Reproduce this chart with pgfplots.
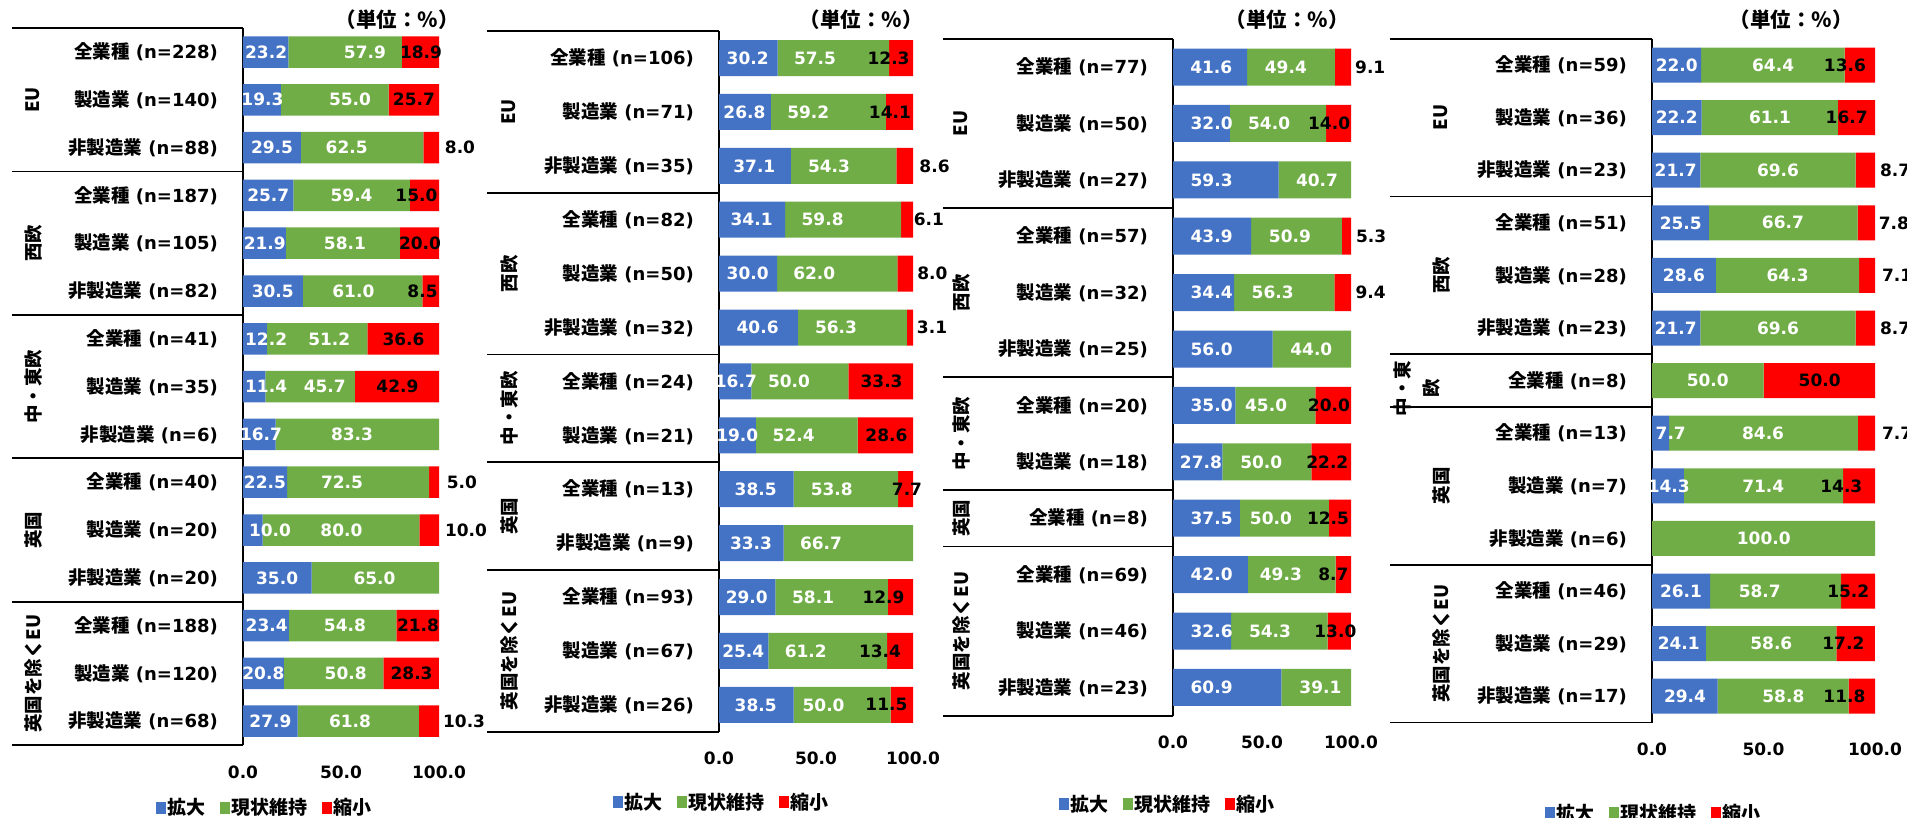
\documentclass[border=0pt]{standalone}
\usepackage{fontspec}
\setmainfont{DejaVu Sans}
\newfontfamily\jp{Noto Sans CJK JP}
\usepackage{pgfplots}
\usepackage{pgfplotstable}
\pgfplotsset{compat=1.18}
\definecolor{cb}{HTML}{4472C4}
\definecolor{cg}{HTML}{70AD47}
\definecolor{cr}{HTML}{FF0000}

\newcommand\numfont{\fontsize{17}{20}\selectfont\bfseries}
\newcommand\catfont{\fontsize{18}{21}\selectfont\bfseries}
\newcommand\grpfont{\fontsize{18.5}{21}\selectfont\bfseries\jp}
\newcommand\unitlbl{{\jp\bfseries\fontsize{20.5}{23}\selectfont （単位：％）}}
\newcommand\legtxt[1]{{\jp\bfseries\fontsize{19}{22}\selectfont #1}}
\newcommand\cjtxt[1]{{\jp\fontsize{18.5}{21}\selectfont #1}}
\newcommand\zen[1]{\cjtxt{全業種} (n=#1)}
\newcommand\sei[1]{\cjtxt{製造業} (n=#1)}
\newcommand\hi[1]{\cjtxt{非製造業} (n=#1)}

% row, 拡大, 現状維持, 縮小, label positions (blue, green, red)
\pgfplotstableread{
row a b c bx gx rx
0 23.2 57.9 18.9 11.8 62.2 90.8
1 19.3 55.0 25.7 9.9 54.6 87.2
2 29.5 62.5 8.0 14.8 52.9 110.7
3 25.7 59.4 15.0 12.9 55.4 88.5
4 21.9 58.1 20.0 11.1 52.0 90.3
5 30.5 61.0 8.5 15.2 56.3 91.6
6 12.2 51.2 36.6 11.8 44.0 81.9
7 11.4 45.7 42.9 11.8 41.7 78.8
8 16.7 83.3 0 9.2 55.6 nan
9 22.5 72.5 5.0 11.2 50.5 111.7
10 10.0 80.0 10.0 13.8 50.2 113.8
11 35.0 65.0 0 17.4 67.1 nan
12 23.4 54.8 21.8 12.1 52.0 89.3
13 20.8 50.8 28.3 10.4 52.4 86.0
14 27.9 61.8 10.3 14.0 54.6 112.8
}\tA
\pgfplotstableread{
row a b c bx gx rx
0 30.2 57.5 12.3 14.8 49.5 87.4
1 26.8 59.2 14.1 13.1 46.0 88.1
2 37.1 54.3 8.6 18.2 56.7 111.1
3 34.1 59.8 6.1 16.8 53.4 108.2
4 30.0 62.0 8.0 14.8 49.1 110.0
5 40.6 56.3 3.1 19.9 60.3 109.8
6 16.7 50.0 33.3 8.7 36.1 83.8
7 19.0 52.4 28.6 9.4 38.5 86.3
8 38.5 53.8 7.7 18.9 58.1 96.9
9 33.3 66.7 0 16.5 52.6 nan
10 29.0 58.1 12.9 14.3 48.5 84.8
11 25.4 61.2 13.4 12.5 44.7 83.0
12 38.5 50.0 11.5 18.9 53.9 86.3
}\tB
\pgfplotstableread{
row a b c bx gx rx
0 41.6 49.4 9.1 21.5 63.4 110.8
1 32.0 54.0 14.0 21.7 54.0 87.7
2 59.3 40.7 0 21.7 80.9 nan
3 43.9 50.9 5.3 21.7 65.7 111.3
4 34.4 56.3 9.4 21.7 56.0 111.0
5 56.0 44.0 0 21.7 77.7 nan
6 35.0 45.0 20.0 21.7 52.3 87.6
7 27.8 50.0 22.2 15.7 49.6 86.7
8 37.5 50.0 12.5 21.7 55.0 87.1
9 42.0 49.3 8.7 21.7 60.6 90.1
10 32.6 54.3 13.0 21.7 54.5 91.2
11 60.9 39.1 0 21.7 82.8 nan
}\tC
\pgfplotstableread{
row a b c bx gx rx
0 22.0 64.4 13.6 11.1 54.3 86.5
1 22.2 61.1 16.7 11.1 52.9 87.3
2 21.7 69.6 8.7 10.6 56.5 109.0
3 25.5 66.7 7.8 12.9 58.7 108.5
4 28.6 64.3 7.1 14.3 60.8 109.9
5 21.7 69.6 8.7 10.6 56.5 109.0
6 0 50.0 50.0 nan 25.0 75.2
7 7.7 84.6 7.7 8.4 49.8 109.9
8 14.3 71.4 14.3 7.5 49.9 84.9
9 0 100.0 0 nan 50.1 nan
10 26.1 58.7 15.2 13.0 48.3 88.0
11 24.1 58.6 17.2 12.0 53.5 85.8
12 29.4 58.8 11.8 14.8 58.9 86.3
}\tD

\tikzset{tline/.style={line width=1.8pt, black}}
\pgfplotsset{
  geom/.style n args={6}{at={(#1pt,-#2pt)}, anchor=north west, scale only axis,
    x=#3pt, y=#4pt, y dir=reverse, xmin=0, xmax=100, ymin=-0.5, ymax=#5,
    enlargelimits=false, clip=false, bar width=#6pt},
  barax/.style={
    xbar stacked,
    axis line style={draw=none},
    major tick style={draw=none},
    xtick={0,50,100}, xticklabels={0.0,50.0,100.0},
    xticklabel style={font=\numfont, anchor=center, yshift=-27pt},
    yticklabel style={font=\catfont, anchor=east, inner sep=0pt, xshift=-25pt},
    legend columns=3, legend cell align=left,
    legend style={draw=none, fill=none, inner sep=0pt, anchor=west,
      nodes={inner xsep=1.5pt, inner ysep=1pt},
      /tikz/every even column/.append style={column sep=13pt}},
  },
  lbl/.style={draw=none, mark=none, point meta=explicit,
    /pgf/number format/assume math mode=true,
    nodes near coords={\pgfmathprintnumber[fixed,fixed zerofill,precision=1,assume math mode=true]{\pgfplotspointmeta}},
    every node near coord/.append style={anchor=center, font=\numfont, text=#1}},
  sq/.style={legend image code/.code={\path[fill=#1] (0pt,-6pt) rectangle (10pt,6pt);}},
}

\begin{document}
\begin{tikzpicture}
\useasboundingbox (0,0) rectangle (1907pt,-817pt);

% ---------------- Panel 1 ----------------
\begin{axis}[geom={243}{28.1}{1.96}{47.8}{14.5}{31.5}, barax,
  ytick={0,...,14},
  yticklabels={\zen{228},\sei{140},\hi{88},\zen{187},\sei{105},\hi{82},\zen{41},\sei{35},\hi{6},\zen{40},\sei{20},\hi{20},\zen{188},\sei{120},\hi{68}},
  legend style={at={(-0.444,-0.087)}}]
\addplot[fill=cb, draw=none, sq=cb] table[x=a,y=row]{\tA}; \addlegendentry{\legtxt{拡大}}
\addplot[fill=cg, draw=none, sq=cg] table[x=b,y=row]{\tA}; \addlegendentry{\legtxt{現状維持}}
\addplot[fill=cr, draw=none, sq=cr] table[x=c,y=row]{\tA}; \addlegendentry{\legtxt{縮小}}
\pgfplotsinvokeforeach{-0.5,2.5,5.5,8.5,11.5,14.5}{\draw[tline] (-117.9,#1) -- (0,#1);}
\draw[tline] (0,-0.5) -- (0,14.5);
\node[rotate=90, font=\grpfont] at (-107.1,1) {EU};
\node[rotate=90, font=\grpfont] at (-107.1,4) {西欧};
\node[rotate=90, font=\grpfont] at (-107.1,7) {中・東欧};
\node[rotate=90, font=\grpfont] at (-107.1,10) {英国};
\node[rotate=90, font=\grpfont] at (-107.1,13) {英国を除くEU};
\end{axis}
\begin{axis}[geom={243}{28.1}{1.96}{47.8}{14.5}{31.5}, hide axis]
\addplot[lbl=white] table[x=bx,y=row,meta=a]{\tA};
\addplot[lbl=white] table[x=gx,y=row,meta=b]{\tA};
\addplot[lbl=black] table[x=rx,y=row,meta=c]{\tA};
\end{axis}

% ---------------- Panel 2 ----------------
\begin{axis}[geom={719}{31.05}{1.94}{53.9}{12.5}{36}, barax,
  ytick={0,...,12},
  yticklabels={\zen{106},\sei{71},\hi{35},\zen{82},\sei{50},\hi{32},\zen{24},\sei{21},\zen{13},\hi{9},\zen{93},\sei{67},\hi{26}},
  legend style={at={(-0.546,-0.100)}}]
\addplot[fill=cb, draw=none, sq=cb] table[x=a,y=row]{\tB}; \addlegendentry{\legtxt{拡大}}
\addplot[fill=cg, draw=none, sq=cg] table[x=b,y=row]{\tB}; \addlegendentry{\legtxt{現状維持}}
\addplot[fill=cr, draw=none, sq=cr] table[x=c,y=row]{\tB}; \addlegendentry{\legtxt{縮小}}
\pgfplotsinvokeforeach{-0.5,2.5,5.5,7.5,9.5,12.5}{\draw[tline] (-119.6,#1) -- (0,#1);}
\draw[tline] (0,-0.5) -- (0,12.5);
\node[rotate=90, font=\grpfont] at (-108.2,1) {EU};
\node[rotate=90, font=\grpfont] at (-108.2,4) {西欧};
\node[rotate=90, font=\grpfont] at (-108.2,6.5) {中・東欧};
\node[rotate=90, font=\grpfont] at (-108.2,8.5) {英国};
\node[rotate=90, font=\grpfont] at (-108.2,11) {英国を除くEU};
\end{axis}
\begin{axis}[geom={719}{31.05}{1.94}{53.9}{12.5}{36}, hide axis]
\addplot[lbl=white] table[x=bx,y=row,meta=a]{\tB};
\addplot[lbl=white] table[x=gx,y=row,meta=b]{\tB};
\addplot[lbl=black] table[x=rx,y=row,meta=c]{\tB};
\end{axis}

% ---------------- Panel 3 ----------------
\begin{axis}[geom={1173}{38.8}{1.78}{56.4}{11.5}{37}, barax,
  ytick={0,...,11},
  yticklabels={\zen{77},\sei{50},\hi{27},\zen{57},\sei{32},\hi{25},\zen{20},\sei{18},\zen{8},\zen{69},\sei{46},\hi{23}},
  legend style={at={(-0.640,-0.131)}}]
\addplot[fill=cb, draw=none, sq=cb] table[x=a,y=row]{\tC}; \addlegendentry{\legtxt{拡大}}
\addplot[fill=cg, draw=none, sq=cg] table[x=b,y=row]{\tC}; \addlegendentry{\legtxt{現状維持}}
\addplot[fill=cr, draw=none, sq=cr] table[x=c,y=row]{\tC}; \addlegendentry{\legtxt{縮小}}
\pgfplotsinvokeforeach{-0.5,2.5,5.5,7.5,8.5,11.5}{\draw[tline] (-129.2,#1) -- (0,#1);}
\draw[tline] (0,-0.5) -- (0,11.5);
\node[rotate=90, font=\grpfont] at (-119.1,1) {EU};
\node[rotate=90, font=\grpfont] at (-119.1,4) {西欧};
\node[rotate=90, font=\grpfont] at (-119.1,6.5) {中・東欧};
\node[rotate=90, font=\grpfont] at (-119.1,8) {英国};
\node[rotate=90, font=\grpfont] at (-119.1,10) {英国を除くEU};
\end{axis}
\begin{axis}[geom={1173}{38.8}{1.78}{56.4}{11.5}{37}, hide axis]
\addplot[lbl=white] table[x=bx,y=row,meta=a]{\tC};
\addplot[lbl=white] table[x=gx,y=row,meta=b]{\tC};
\addplot[lbl=black] table[x=rx,y=row,meta=c]{\tC};
\end{axis}

% ---------------- Panel 4 ----------------
\begin{axis}[geom={1652}{38.7}{2.23}{52.6}{12.5}{35}, barax,
  ytick={0,...,12},
  yticklabels={\zen{59},\sei{36},\hi{23},\zen{51},\sei{28},\hi{23},\zen{8},\zen{13},\sei{7},\hi{6},\zen{46},\sei{29},\hi{17}},
  legend style={at={(-0.480,-0.132)}}]
\addplot[fill=cb, draw=none, sq=cb] table[x=a,y=row]{\tD}; \addlegendentry{\legtxt{拡大}}
\addplot[fill=cg, draw=none, sq=cg] table[x=b,y=row]{\tD}; \addlegendentry{\legtxt{現状維持}}
\addplot[fill=cr, draw=none, sq=cr] table[x=c,y=row]{\tD}; \addlegendentry{\legtxt{縮小}}
\pgfplotsinvokeforeach{-0.5,2.5,5.5,6.5,9.5,12.5}{\draw[tline] (-117.5,#1) -- (0,#1);}
\draw[tline] (0,-0.5) -- (0,12.5);
\node[rotate=90, font=\grpfont] at (-94.6,1) {EU};
\node[rotate=90, font=\grpfont] at (-94.6,4) {西欧};
\node[rotate=90, align=center, font=\fontsize{18.5}{29}\selectfont\bfseries\jp] at (-105.2,6.15) {中・東\\欧};
\node[rotate=90, font=\grpfont] at (-94.6,8) {英国};
\node[rotate=90, font=\grpfont] at (-94.6,11) {英国を除くEU};
\end{axis}
\begin{axis}[geom={1652}{38.7}{2.23}{52.6}{12.5}{35}, hide axis]
\addplot[lbl=white] table[x=bx,y=row,meta=a]{\tD};
\addplot[lbl=white] table[x=gx,y=row,meta=b]{\tD};
\addplot[lbl=black] table[x=rx,y=row,meta=c]{\tD};
\end{axis}

% unit labels
\node[anchor=east, inner sep=0pt] at (459pt,-20pt) {\unitlbl};
\node[anchor=east, inner sep=0pt] at (923pt,-20pt) {\unitlbl};
\node[anchor=east, inner sep=0pt] at (1349pt,-20pt) {\unitlbl};
\node[anchor=east, inner sep=0pt] at (1853pt,-20pt) {\unitlbl};
\end{tikzpicture}
\end{document}
